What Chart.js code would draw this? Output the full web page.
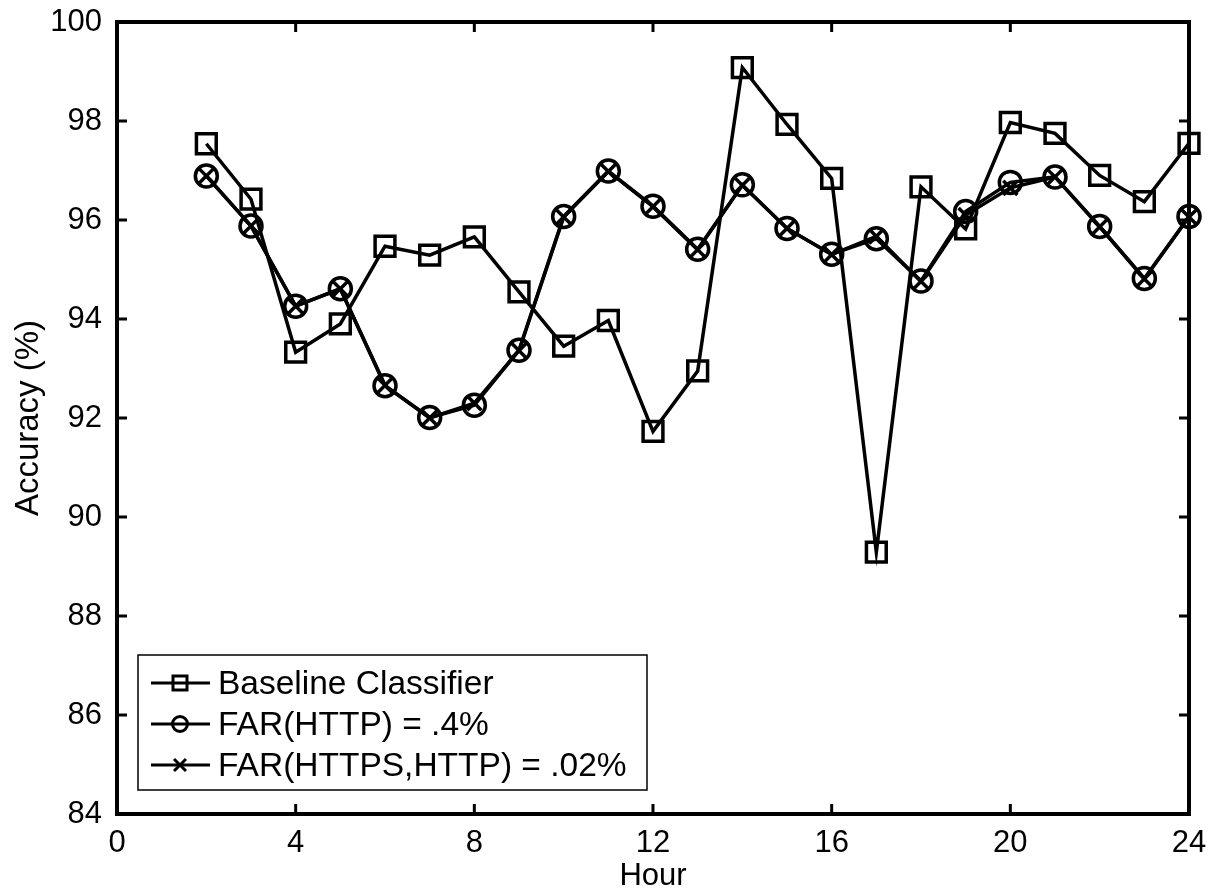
<!DOCTYPE html>
<html>
<head>
<meta charset="utf-8">
<title>Accuracy per hour</title>
<script src="https://cdn.jsdelivr.net/npm/chart.js@4.4.0/dist/chart.umd.min.js"></script>
<style>
  html, body { margin: 0; padding: 0; background: #fff; }
  canvas { display: block; }
</style>
</head>
<body>
<canvas id="accChart" width="1218" height="890"></canvas>
<script>
// ---- data ----
const hours = [2, 3, 4, 5, 6, 7, 8, 9, 10, 11, 12, 13, 14, 15, 16, 17, 18, 19, 20, 21, 22, 23, 24];
const baseline = [97.54, 96.42, 93.33, 93.90, 95.47, 95.29, 95.66, 94.55, 93.45, 93.97, 91.73, 92.95,
                  99.08, 97.93, 96.84, 89.29, 96.67, 95.82, 97.97, 97.75, 96.90, 96.37, 97.55];
const farHttp = [96.89, 95.88, 94.26, 94.61, 92.65, 92.01, 92.26, 93.37, 96.07, 96.99, 96.28, 95.41,
                 96.71, 95.83, 95.31, 95.62, 94.77, 96.17, 96.76, 96.87, 95.87, 94.82, 96.07];
const farHttps = [96.89, 95.88, 94.26, 94.61, 92.66, 92.00, 92.30, 93.36, 96.06, 96.98, 96.27, 95.40,
                  96.70, 95.83, 95.30, 95.67, 94.76, 96.10, 96.65, 96.87, 95.86, 94.81, 96.06];
const seriesLabels = ["Baseline Classifier", "FAR(HTTP) = .4%", "FAR(HTTPS,HTTP) = .02%"];
const xTicks = [0, 4, 8, 12, 16, 20, 24];
const yTicks = [84, 86, 88, 90, 92, 94, 96, 98, 100];

const FONT = "'Liberation Sans', Arial, Helvetica, sans-serif";

function toPoints(vals) {
    return hours.map((h, i) => ({ x: h, y: vals[i] }));
}

// MATLAB style box with inward ticks on all four sides
const boxPlugin = {
    id: "matlabBox",
    beforeDatasetsDraw(chart) {
        const { ctx, chartArea: a, scales } = chart;
        ctx.save();
        ctx.strokeStyle = "#000";
        ctx.lineWidth = 3;
        const tl = 10;
        ctx.beginPath();
        xTicks.forEach(v => {
            const px = scales.x.getPixelForValue(v);
            ctx.moveTo(px, a.bottom); ctx.lineTo(px, a.bottom - tl);
            ctx.moveTo(px, a.top); ctx.lineTo(px, a.top + tl);
        });
        yTicks.forEach(v => {
            const py = scales.y.getPixelForValue(v);
            ctx.moveTo(a.left, py); ctx.lineTo(a.left + tl, py);
            ctx.moveTo(a.right, py); ctx.lineTo(a.right - tl, py);
        });
        ctx.stroke();
        ctx.lineWidth = 4;
        ctx.strokeRect(a.left, a.top, a.right - a.left, a.bottom - a.top);
        ctx.restore();
    }
};

// legend inside the axes, bottom-left, line + marker samples
const legendPlugin = {
    id: "matlabLegend",
    afterDatasetsDraw(chart) {
        const { ctx, chartArea: a } = chart;
        const x0 = a.left + 21, y1 = a.bottom - 24;
        const w = 509, h = 135;
        const y0 = y1 - h;
        ctx.save();
        ctx.fillStyle = "#fff";
        ctx.fillRect(x0, y0, w, h);
        ctx.strokeStyle = "#000";
        ctx.lineWidth = 1.5;
        ctx.strokeRect(x0, y0, w, h);
        ctx.font = "33.5px " + FONT;
        ctx.textBaseline = "middle";
        ctx.fillStyle = "#000";
        chart.data.datasets.forEach((ds, i) => {
            const cy = y0 + 28 + i * 41;
            ctx.lineWidth = 3;
            ctx.beginPath();
            ctx.moveTo(x0 + 13, cy); ctx.lineTo(x0 + 72, cy);
            ctx.stroke();
            const cx = x0 + 42;
            ctx.lineWidth = 3;
            ctx.beginPath();
            if (ds.pointStyle === "rect") {
                ctx.rect(cx - 7, cy - 7, 14, 14);
            } else if (ds.pointStyle === "circle") {
                ctx.arc(cx, cy, 7.5, 0, Math.PI * 2);
            } else {
                ctx.moveTo(cx - 6, cy - 6); ctx.lineTo(cx + 6, cy + 6);
                ctx.moveTo(cx + 6, cy - 6); ctx.lineTo(cx - 6, cy + 6);
            }
            ctx.stroke();
            ctx.fillText(ds.label, x0 + 80, cy + 2);
        });
        ctx.restore();
    }
};

const common = {
    borderColor: "#000",
    borderWidth: 3.5,
    pointBorderColor: "#000",
    pointBackgroundColor: "rgba(0,0,0,0)",
    pointBorderWidth: 3.5,
    tension: 0,
    fill: false,
    clip: false
};

new Chart(document.getElementById("accChart"), {
    type: "line",
    data: {
        datasets: [
            Object.assign({}, common, { label: seriesLabels[0], data: toPoints(baseline), pointStyle: "rect", pointRadius: 14 }),
            Object.assign({}, common, { label: seriesLabels[1], data: toPoints(farHttp), pointStyle: "circle", pointRadius: 11 }),
            Object.assign({}, common, { label: seriesLabels[2], data: toPoints(farHttps), pointStyle: "crossRot", pointRadius: 10 })
        ]
    },
    options: {
        responsive: false,
        animation: false,
        devicePixelRatio: 1,
        layout: { padding: { top: 22, right: 29, left: 0, bottom: 0 } },
        plugins: {
            legend: { display: false },
            tooltip: { enabled: false }
        },
        scales: {
            x: {
                type: "linear",
                min: 0,
                max: 24,
                afterBuildTicks: s => { s.ticks = xTicks.map(v => ({ value: v })); },
                afterFit: s => { s.height = 76; s.paddingLeft = 0; s.paddingRight = 0; },
                grid: { display: false },
                border: { display: false },
                ticks: { color: "#000", font: { family: FONT, size: 31 }, padding: 3, maxRotation: 0 },
                title: { display: true, text: "Hour", color: "#000",
                         font: { family: FONT, size: 31, lineHeight: 1 }, padding: { top: 0, bottom: -2 } }
            },
            y: {
                type: "linear",
                min: 84,
                max: 100,
                afterBuildTicks: s => { s.ticks = yTicks.map(v => ({ value: v })); },
                afterFit: s => { s.width = 117; s.paddingTop = 0; s.paddingBottom = 0; },
                grid: { display: false },
                border: { display: false },
                ticks: { color: "#000", font: { family: FONT, size: 31 }, padding: 7 },
                title: { display: true, text: "Accuracy (%)", color: "#000",
                         font: { family: FONT, size: 33, lineHeight: 1 }, padding: { top: 12, bottom: 0 } }
            }
        }
    },
    plugins: [boxPlugin, legendPlugin]
});
</script>
</body>
</html>
